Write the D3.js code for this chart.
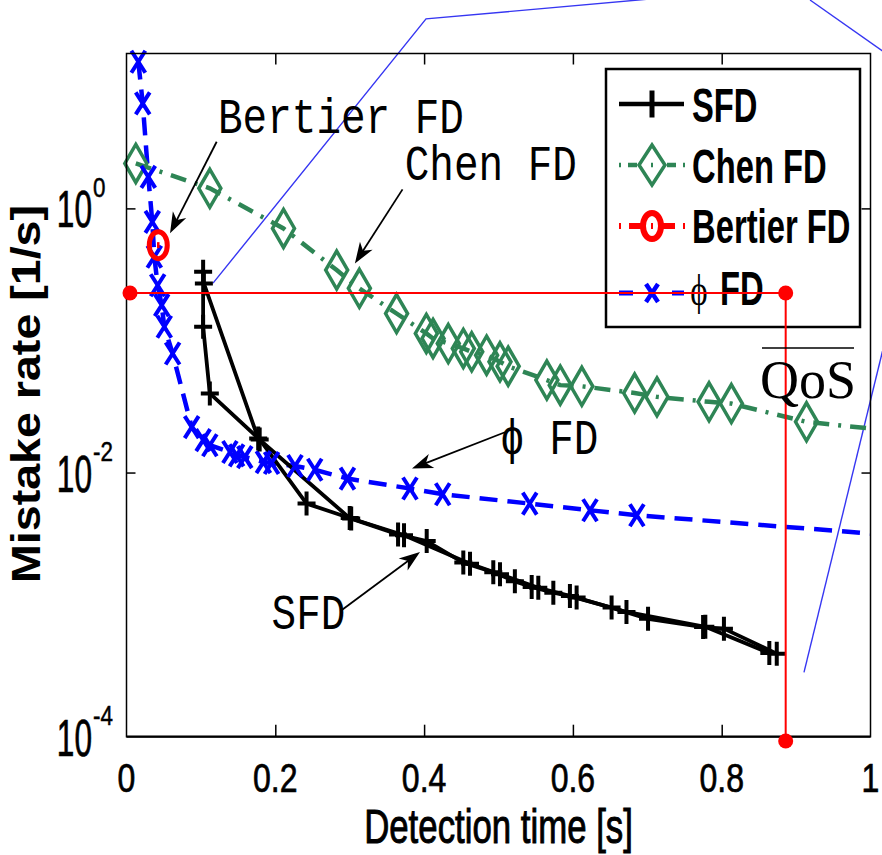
<!DOCTYPE html>
<html>
<head>
<meta charset="utf-8">
<script src="https://cdn.jsdelivr.net/npm/d3@7"></script>
<style>
  body { margin: 0; background: #fff; }
</style>
</head>
<body>
<script>
// ---- values ----
// phi FD (blue, dashed, x markers)
const phiX = [0.0159, 0.0218, 0.0293, 0.0347, 0.0374, 0.0419, 0.0473, 0.0508, 0.062, 0.0876,
              0.103, 0.112, 0.139, 0.148, 0.159, 0.184, 0.195, 0.2265, 0.253, 0.297,
              0.381, 0.425, 0.542, 0.623, 0.686, 1.1];
const phiY = [12.9, 6.24, 1.73, 0.79, 0.43, 0.262, 0.185, 0.127, 0.0797, 0.0221,
              0.0176, 0.0161, 0.0143, 0.0135, 0.0131, 0.0120, 0.0118, 0.0112, 0.0105, 0.0090,
              0.00757, 0.00685, 0.00582, 0.00518, 0.00475, 0.00312];

// Chen FD (green, dash-dot, diamonds)
const chenX = [0.0125, 0.112, 0.211, 0.2825, 0.313, 0.363, 0.403, 0.412, 0.4325, 0.4527,
               0.464, 0.484, 0.502, 0.513, 0.565, 0.583, 0.612, 0.683, 0.713, 0.783,
               0.813, 0.914, 1.1];
const chenY = [2.19, 1.42, 0.705, 0.341, 0.248, 0.160, 0.113, 0.1035, 0.0948, 0.087,
               0.082, 0.0774, 0.0689, 0.0638, 0.0501, 0.0459, 0.045, 0.040, 0.0374, 0.0343,
               0.0333, 0.0242, 0.0188];

// SFD (black, solid, + markers), two runs that nearly overlap
const sfdAX = [0.104, 0.177, 0.300, 0.365, 0.4035, 0.4527, 0.493, 0.522, 0.5446, 0.5737,
               0.596, 0.652, 0.701, 0.775, 0.803, 0.874];
const sfdAY = [0.27, 0.0181, 0.00452, 0.00340, 0.00303, 0.00208, 0.00176, 0.00150, 0.00136, 0.00123,
               0.00116, 0.00095, 0.00078, 0.000676, 0.000658, 0.000425];
const sfdBX = [0.103, 0.103, 0.112, 0.179, 0.242, 0.302, 0.373, 0.4617, 0.502, 0.5535,
               0.605, 0.672, 0.778, 0.864];
const sfdBY = [0.331, 0.127, 0.0397, 0.0178, 0.00582, 0.00449, 0.00335, 0.00204, 0.00170, 0.00134,
               0.00113, 0.00088, 0.000680, 0.000430];

// Bertier FD (single red circle)
const bertX = [0.0427];
const bertY = [0.527];

// QoS requirement point
const qosX = 0.886, qosY = 0.229;

const xTicks = [0, 0.2, 0.4, 0.6, 0.8, 1];
const xTickLabels = ["0", "0.2", "0.4", "0.6", "0.8", "1"];
const yTicks = [1, 1e-2, 1e-4];
const yTickExp = ["0", "-2", "-4"];

const legendNames = ["SFD", "Chen FD", "Bertier FD", "FD"];

// ---- setup ----
const W = 882, H = 855;
const svg = d3.select("body").append("svg")
    .attr("width", W)
    .attr("height", H);

const x = d3.scaleLinear().domain([0, 1]).range([126.5, 870.5]);
const y = d3.scaleLog().domain([1e-4, Math.pow(10, 1.1727)]).range([736.7, 53.5]);

const sans = "'Liberation Sans', Arial, Helvetica, sans-serif";
const mono = "'Liberation Mono', 'Courier New', 'DejaVu Sans Mono', monospace";
const serif = "'Liberation Serif', 'Times New Roman', 'DejaVu Serif', serif";

const GREEN = "#2e8555", BLUE = "#0000ff", RED = "#ff0000";

// text that is squeezed / stretched like the original picture
function label(g, px, py, str, o) {
  const t = g.append("text")
      .attr("transform", "translate(" + px + "," + py + ") scale(" + (o.sx || 1) + "," + (o.sy || 1) + ")")
      .attr("text-anchor", o.anchor || "start")
      .style("font-family", o.family || sans)
      .style("font-size", o.size + "px")
      .style("font-weight", o.weight || "normal")
      .style("fill", o.fill || "#000")
      .text(str);
  if (o.heavy) t.style("stroke", "#000").style("stroke-width", o.heavy);
  return t;
}

// marker shapes
const plusPath = "M-9,0H9M0,-12V12";
const crossPath = "M-7,-11L7,11M7,-11L-7,11";
function diamondPath(w, h) { return "M0," + (-h) + "L" + w + ",0L0," + h + "L" + (-w) + ",0Z"; }

// ---- callout lines (thin blue, from a surrounding figure) ----
const calloutA = [[0.1163, 0.2717], [0.4026, 27.2], [0.7036, 38.5]];
const calloutB = [[0.9187, 37.8], [1.0181, 15.3]];
const calloutC = [[1.0181, 0.092], [0.9106, 3.07e-4]];
const thin = d3.line().x(d => x(d[0])).y(d => y(d[1]));
[calloutA, calloutB, calloutC].forEach(c => {
  svg.append("path").attr("d", thin(c))
      .attr("fill", "none").attr("stroke", "#3636f2").attr("stroke-width", 1.4);
});

// ---- clip for the series lines ----
svg.append("clipPath").attr("id", "plotclip")
  .append("rect")
    .attr("x", x(0)).attr("y", y.range()[1])
    .attr("width", x(1) - x(0)).attr("height", y.range()[0] - y.range()[1]);

const plot = svg.append("g");
const lines = plot.append("g").attr("clip-path", "url(#plotclip)");

const line = d3.line().x(d => x(d[0])).y(d => y(d[1]));
const zip = (a, b) => a.map((v, i) => [v, b[i]]);

// Chen FD
const chen = zip(chenX, chenY);
lines.append("path").attr("d", line(chen))
    .attr("fill", "none").attr("stroke", GREEN).attr("stroke-width", 4.5)
    .attr("stroke-dasharray", "16,9,3,9");
plot.selectAll("path.chen").data(chen.filter(d => d[0] <= 1)).enter().append("path")
    .attr("class", "chen")
    .attr("transform", d => "translate(" + x(d[0]) + "," + y(d[1]) + ")")
    .attr("d", diamondPath(11, 19))
    .attr("fill", "none").attr("stroke", GREEN).attr("stroke-width", 3.5);

// phi FD
const phi = zip(phiX, phiY);
lines.append("path").attr("d", line(phi))
    .attr("fill", "none").attr("stroke", BLUE).attr("stroke-width", 4.5)
    .attr("stroke-dasharray", "18,10");
plot.selectAll("path.phi").data(phi.filter(d => d[0] <= 1)).enter().append("path")
    .attr("class", "phi")
    .attr("transform", d => "translate(" + x(d[0]) + "," + y(d[1]) + ")")
    .attr("d", crossPath)
    .attr("fill", "none").attr("stroke", BLUE).attr("stroke-width", 4);

// SFD
[zip(sfdAX, sfdAY), zip(sfdBX, sfdBY)].forEach(run => {
  lines.append("path").attr("d", line(run))
      .attr("fill", "none").attr("stroke", "#000").attr("stroke-width", 3.8)
      .attr("stroke-linejoin", "round");
  plot.append("g").selectAll("path").data(run).enter().append("path")
      .attr("transform", d => "translate(" + x(d[0]) + "," + y(d[1]) + ")")
      .attr("d", plusPath)
      .attr("fill", "none").attr("stroke", "#000").attr("stroke-width", 4);
});

// Bertier FD
zip(bertX, bertY).forEach(d => {
  plot.append("ellipse")
      .attr("cx", x(d[0])).attr("cy", y(d[1]))
      .attr("rx", 9).attr("ry", 13.5)
      .attr("fill", "none").attr("stroke", RED).attr("stroke-width", 5);
  plot.append("line")
      .attr("x1", x(d[0])).attr("x2", x(d[0]))
      .attr("y1", y(d[1]) - 3).attr("y2", y(d[1]) + 3)
      .attr("stroke", RED).attr("stroke-width", 2.5);
});

// ---- axes ----
const axes = svg.append("g");
function tickStyle(g) {
  g.select(".domain").remove();
  g.selectAll(".tick line").attr("stroke", "#000").attr("stroke-width", 1.5);
}
axes.append("g").attr("transform", "translate(0," + y.range()[0] + ")")
    .call(d3.axisBottom(x).tickValues(xTicks.slice(1, -1)).tickSize(-12).tickFormat(""))
    .call(tickStyle);
axes.append("g").attr("transform", "translate(0," + y.range()[1] + ")")
    .call(d3.axisTop(x).tickValues(xTicks.slice(1, -1)).tickSize(-11).tickFormat(""))
    .call(tickStyle);
axes.append("g").attr("transform", "translate(" + x(0) + ",0)")
    .call(d3.axisLeft(y).tickValues(yTicks.slice(0, -1)).tickSize(-9).tickFormat(""))
    .call(tickStyle);
axes.append("g").attr("transform", "translate(" + x(1) + ",0)")
    .call(d3.axisRight(y).tickValues(yTicks.slice(0, -1)).tickSize(-9).tickFormat(""))
    .call(tickStyle);

// frame
axes.append("rect")
    .attr("x", x(0)).attr("y", y.range()[1])
    .attr("width", x(1) - x(0)).attr("height", y.range()[0] - y.range()[1])
    .attr("fill", "none").attr("stroke", "#000").attr("stroke-width", 1.5);
axes.append("line")
    .attr("x1", x(0)).attr("x2", x(1))
    .attr("y1", y.range()[0]).attr("y2", y.range()[0])
    .attr("stroke", "#000").attr("stroke-width", 2.2);

// tick labels
xTicks.forEach((v, i) => {
  label(axes, x(v), 791.5, xTickLabels[i], { size: 40, sx: 0.8, anchor: "middle", heavy: 0.7 });
});
yTicks.forEach((v, i) => {
  label(axes, 92, y(v) + 19, "10", { size: 51, sx: 0.62, anchor: "end", heavy: 0.7 });
  label(axes, 93, y(v) - 11.5, yTickExp[i], { size: 28, sx: 0.8, heavy: 0.5 });
});

// axis titles
label(axes, 498.5, 843, "Detection time [s]", { size: 49, sx: 0.71, anchor: "middle", heavy: 1 });
axes.append("text")
    .attr("transform", "translate(40,394) rotate(-90) scale(1.165,1)")
    .attr("text-anchor", "middle")
    .style("font-family", sans).style("font-size", "40px").style("font-weight", "bold")
    .text("Mistake rate [1/s]");

// ---- annotations with arrows ----
const notes = [
  { text: "Bertier FD", at: [0.123, 3.72], from: [0.1212, 3.195], to: [0.0585, 0.647] },
  { text: "Chen FD", at: [0.374, 1.64], from: [0.371, 1.393], to: [0.307, 0.383] },
  { text: "\u03D5 FD", at: [0.502, 0.01393], from: [0.5087, 0.0202], to: [0.3837, 0.01072] },
  { text: "SFD", at: [0.195, 0.000658], from: [0.289, 0.000906], to: [0.3945, 0.0025] }
];
const ann = svg.append("g");
notes.forEach(n => {
  label(ann, x(n.at[0]), y(n.at[1]), n.text, { size: 41, sy: 1.2, family: mono });
  const x1 = x(n.from[0]), y1 = y(n.from[1]), x2 = x(n.to[0]), y2 = y(n.to[1]);
  const ang = Math.atan2(y2 - y1, x2 - x1);
  const L = 21, hw = 7.5, notch = 6;
  const ux = Math.cos(ang), uy = Math.sin(ang);
  const bx = x2 - ux * L, by = y2 - uy * L;
  ann.append("line")
      .attr("x1", x1).attr("y1", y1)
      .attr("x2", x2 - ux * 10).attr("y2", y2 - uy * 10)
      .attr("stroke", "#000").attr("stroke-width", 1.8);
  const head = [
    [x2, y2],
    [bx - uy * hw, by + ux * hw],
    [x2 - ux * (L - notch), y2 - uy * (L - notch)],
    [bx + uy * hw, by - ux * hw]
  ];
  ann.append("path").attr("d", "M" + head.map(p => p.join(",")).join("L") + "Z").attr("fill", "#000");
});

// ---- legend ----
const leg = svg.append("g");
leg.append("rect")
    .attr("x", 606).attr("y", 69).attr("width", 254).attr("height", 258)
    .attr("fill", "#fff").attr("stroke", "#000").attr("stroke-width", 2.5);
const rowY = [104, 165, 226, 293];
const lx1 = 619, lx2 = 684, mx = 652;

// SFD
leg.append("line").attr("x1", lx1).attr("x2", lx2).attr("y1", rowY[0]).attr("y2", rowY[0])
    .attr("stroke", "#000").attr("stroke-width", 4.5);
leg.append("line").attr("x1", mx).attr("x2", mx).attr("y1", rowY[0] - 13.5).attr("y2", rowY[0] + 13.5)
    .attr("stroke", "#000").attr("stroke-width", 5);
// Chen
leg.append("line").attr("x1", lx1).attr("x2", lx2 + 1).attr("y1", rowY[1]).attr("y2", rowY[1])
    .attr("stroke", GREEN).attr("stroke-width", 4.5)
    .attr("stroke-dasharray", "2,7,9,14,2,14,9,7,2");
leg.append("path").attr("transform", "translate(" + mx + "," + rowY[1] + ")")
    .attr("d", diamondPath(13, 20))
    .attr("fill", "none").attr("stroke", GREEN).attr("stroke-width", 3.5);
// Bertier
leg.append("line").attr("x1", lx1).attr("x2", lx2 + 1).attr("y1", rowY[2]).attr("y2", rowY[2])
    .attr("stroke", RED).attr("stroke-width", 6)
    .attr("stroke-dasharray", "2,8,13,9,2,9,13,8,2");
leg.append("ellipse").attr("cx", mx).attr("cy", rowY[2]).attr("rx", 9).attr("ry", 13)
    .attr("fill", "none").attr("stroke", RED).attr("stroke-width", 6);
// phi
leg.append("line").attr("x1", lx1).attr("x2", lx2).attr("y1", rowY[3]).attr("y2", rowY[3])
    .attr("stroke", BLUE).attr("stroke-width", 5)
    .attr("stroke-dasharray", "14,39");
leg.append("path").attr("transform", "translate(" + mx + "," + rowY[3] + ")")
    .attr("d", "M-6,-9L6,9M6,-9L-6,9")
    .attr("fill", "none").attr("stroke", BLUE).attr("stroke-width", 4.5);

const textY = [121.7, 182.7, 243, 305];
legendNames.forEach((t, i) => {
  const tx = i === 3 ? 720 : 692;
  label(leg, tx, textY[i], t, { size: 47.5, sx: 0.69, weight: "bold" });
});
label(leg, 699, 305, "\u03D5", { size: 44, sx: 0.75, anchor: "middle", family: serif });

// ---- QoS guide lines (red) ----
const qos = svg.append("g");
const qLeft = 0.0047, qBottom = 9.27e-5;
qos.append("path")
    .attr("d", line([[qLeft, qosY], [qosX, qosY], [qosX, qBottom]]))
    .attr("fill", "none").attr("stroke", RED).attr("stroke-width", 2);
[[qLeft, qosY], [qosX, qosY], [qosX, qBottom]].forEach(d => {
  qos.append("circle").attr("cx", x(d[0])).attr("cy", y(d[1])).attr("r", 7.5).attr("fill", RED);
});
label(qos, 808, 398, "QoS", { size: 54, anchor: "middle", family: serif });
qos.append("line").attr("x1", 762).attr("x2", 854).attr("y1", 348).attr("y2", 348)
    .attr("stroke", "#000").attr("stroke-width", 1.5);
</script>
</body>
</html>
